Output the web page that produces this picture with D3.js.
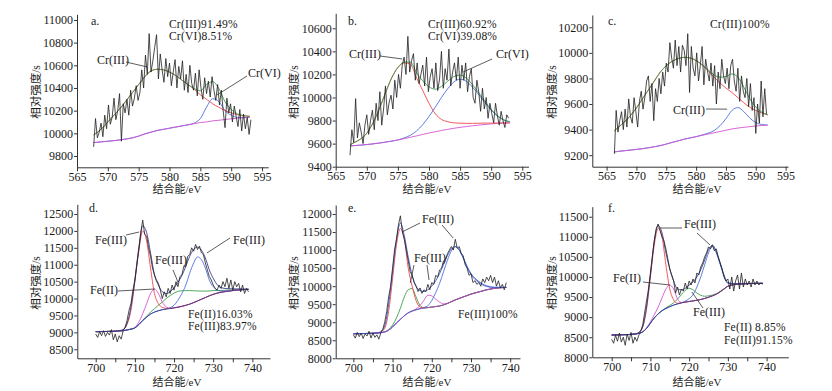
<!DOCTYPE html>
<html>
<head>
<meta charset="utf-8">
<script src="https://cdn.jsdelivr.net/npm/d3@7"></script>
<style>
body{margin:0;background:#fff;}
svg text{font-family:"Liberation Serif","Times New Roman",serif;fill:#1a1a1a;}
.cjk{font-family:"Liberation Serif","Noto Sans CJK SC",sans-serif;}
</style>
</head>
<body>
<svg id="chart" width="832" height="391"></svg>
<script>
// ---------- Cr 2p panels (a, b, c) ----------
var crTicksX = [565,570,575,580,585,590,595];

// a. raw counts, sampled from 567.7 eV every 0.3 eV
var aNoiseStart = 567.7, aNoiseStep = 0.3;
var aNoise = [9880,10130,9960,10010,10090,9970,10160,10040,10250,10080,
	10140,10310,10120,10200,10350,9930,10260,10180,10300,10160,
	10380,10240,10310,10420,10290,10360,10560,10400,10690,10520,
	10880,10540,10640,10760,10870,10480,10700,10560,10450,10660,
	10500,10620,10420,10540,10650,10400,10590,10480,10640,10380,
	10520,10360,10600,10440,10380,10530,10330,10560,10400,10300,
	10490,10350,10460,10320,10500,10380,10290,10430,10250,10380,
	10200,10050,10310,10180,10260,10100,10240,10150,10060,10210,
	10020,10170,10040,10140,9990,10120];
var aFitX = [567.7,569,570,571,572,573,574,575,576,577,578,579,580,581,582,583,584,585,586,587,588,589,590,591,592,593];
var aBg   = [9918,9925,9930,9935,9942,9950,9960,9975,9995,10010,10025,10035,10045,10055,10065,10075,10085,10095,10100,10110,10115,10122,10128,10133,10138,10142];
var aCr3  = [9985,10040,10100,10160,10220,10290,10360,10430,10500,10550,10565,10560,10540,10510,10470,10430,10390,10340,10300,10260,10230,10200,10180,10165,10155,10150];
var aCr6  = [9918,9925,9930,9935,9942,9950,9960,9975,9995,10010,10025,10035,10045,10055,10065,10075,10090,10130,10230,10305,10280,10200,10160,10140,10138,10142];
var aSum  = [9985,10040,10100,10160,10220,10290,10360,10430,10500,10550,10565,10560,10540,10510,10470,10430,10395,10375,10430,10455,10395,10278,10212,10172,10155,10150];
var aTicksY = [9800,10000,10200,10400,10600,10800,11000];

// b.
var bNoiseStart = 567.3, bNoiseStep = 0.3;
var bNoise = [9500,9720,9610,9990,9650,9780,9700,9600,9760,9850,
	9680,9800,9890,9720,9950,9800,10050,9760,9900,10100,
	9850,9960,10020,9900,10150,10000,10200,10080,10280,10350,
	10200,10530,10220,10320,10380,10150,10300,10120,10200,10280,
	10100,10350,10050,10180,10250,10080,10300,10060,10160,10400,
	10080,10250,10150,10420,10100,10220,10300,10150,10350,10080,
	10280,10150,10300,10050,10180,10250,10000,9950,10150,10050,
	9880,10080,9900,10000,9820,9950,9860,9780,9950,9840,
	9760,9880,9800,9740,9850,9820];
var bFitX = [567.3,568,569,570,571,572,573,574,575,576,577,578,579,580,581,582,583,584,585,586,587,588,589,590,591,592,593];
var bBg   = [9580,9583,9587,9592,9598,9605,9613,9622,9632,9643,9655,9667,9680,9692,9703,9714,9724,9733,9741,9748,9755,9761,9766,9771,9775,9778,9780];
var bCr3  = [9590,9610,9640,9690,9780,9900,10040,10170,10260,10300,10290,10170,10060,9950,9860,9810,9790,9780,9777,9776,9776,9777,9778,9778,9779,9780,9780];
var bCr6  = [9580,9583,9587,9592,9598,9605,9613,9622,9632,9650,9672,9710,9765,9835,9915,10000,10075,10135,10158,10140,10090,10025,9955,9890,9840,9805,9790];
var bSum  = [9590,9610,9640,9690,9780,9900,10040,10170,10260,10307,10307,10213,10145,10093,10072,10096,10141,10182,10194,10168,10111,10041,9967,9897,9844,9807,9790];
var bTicksY = [9400,9600,9800,10000,10200,10400,10600];

// c.
var cNoiseStart = 566.3, cNoiseStep = 0.3;
var cNoise = [9210,9550,9380,9470,9540,9400,9560,9420,9640,9500,
	9450,9650,9540,9420,9620,9700,9560,9650,9780,9820,
	9620,9760,9470,9720,9620,9800,9680,9850,9740,9920,
	9850,10080,9960,9880,10100,9900,10050,9850,10060,10020,
	9900,10150,9690,10050,9880,9820,10000,9780,9900,10050,
	9750,9950,9860,9780,9920,9740,9900,9600,9850,9720,
	9950,9820,9760,9880,9720,9900,9950,9780,9700,9880,
	9620,9820,9700,9650,9800,9580,9760,9550,9650,9370,
	9600,9450,9780,9500,9720,9520];
var cFitX = [566.3,567,568,569,570,571,572,573,574,575,576,577,578,579,580,581,582,583,584,585,586,587,588,589,590,591,592];
var cBg   = [9225,9230,9235,9240,9245,9251,9258,9266,9275,9287,9300,9312,9325,9335,9345,9355,9365,9375,9385,9395,9405,9412,9418,9423,9428,9432,9435];
var cCr3  = [9390,9420,9460,9510,9570,9640,9710,9780,9850,9900,9935,9955,9965,9960,9940,9905,9860,9810,9765,9725,9690,9650,9610,9575,9550,9530,9515];
var cPeak = [9225,9230,9235,9240,9245,9251,9258,9266,9275,9287,9300,9312,9325,9335,9345,9358,9372,9392,9430,9485,9550,9572,9540,9490,9455,9440,9436];
var cSum  = [9390,9420,9460,9510,9570,9640,9710,9780,9850,9900,9935,9955,9965,9960,9940,9908,9867,9827,9810,9815,9835,9810,9732,9642,9577,9538,9516];
var cTicksY = [9200,9400,9600,9800,10000,10200];

// ---------- Fe 2p panels (d, e, f) ----------
var feTicksX = [700,710,720,730,740];
var feMinorX = [705,715,725,735];
var feNoiseStart = 700, feNoiseStep = 0.5;
var feFitX = [700,702,704,706,707,708,709,710,711,712,713,714,715,716,717,718,719,720,721,722,723,724,725,726,727,728,729,730,732,734,736,739];

// d.
var dNoise = [8950,8850,9020,8900,9050,8880,9000,8920,9080,8780,8950,8720,8900,8800,9050,9150,9350,9650,9850,10250,
	10550,11000,11450,11950,12320,11900,11850,11500,11250,10900,10700,10550,10450,10250,10000,10200,10050,10300,10150,10400,
	10250,10500,10350,10650,10700,10950,10950,11250,11300,11500,11400,11600,11450,11550,11350,11300,11050,10850,10650,10550,
	10400,10300,10250,10400,10300,10500,10350,10600,10300,10550,10250,10500,10350,10450,10200,10400,10150,10300,10200];
var dBg    = [9020,9025,9030,9040,9050,9070,9095,9130,9230,9350,9450,9540,9600,9640,9670,9690,9705,9725,9745,9770,9800,9835,9880,9930,9980,10030,10080,10125,10185,10220,10250,10270];
var dFe3a  = [9020,9025,9030,9045,9080,9240,9650,10500,11400,12000,11700,10900,10150,9850,9740,9710,9705,9725,9745,9770,9800,9835,9880,9930,9980,10030,10080,10125,10185,10220,10250,10270];
var dFe2   = [9020,9025,9030,9040,9050,9070,9100,9150,9300,9550,9850,10150,10280,10150,9900,9750,9710,9725,9745,9770,9800,9835,9880,9930,9980,10030,10080,10125,10185,10220,10250,10270];
var dSat   = [9020,9025,9030,9040,9050,9070,9095,9130,9230,9360,9480,9600,9700,9800,9900,10000,10090,10160,10210,10230,10235,10235,10230,10225,10220,10220,10225,10235,10240,10250,10258,10270];
var dFe3b  = [9020,9025,9030,9040,9050,9070,9095,9130,9230,9350,9450,9540,9600,9640,9670,9690,9730,9800,9950,10150,10400,10750,11050,11230,11150,10900,10550,10350,10220,10230,10255,10270];
var dSum   = [9020,9025,9030,9050,9080,9260,9750,10550,11500,12150,11950,11350,10700,10400,10200,10150,10200,10320,10480,10680,10950,11250,11450,11520,11430,11200,10850,10600,10320,10290,10285,10280];
var dTicksY = [8500,9000,9500,10000,10500,11000,11500,12000,12500];

// e.
var eNoise = [8650,8560,8720,8600,8700,8550,8680,8620,8750,8560,8700,8580,8650,8530,8700,8800,9000,9300,9700,10000,
	10500,11000,11300,11700,11950,11500,11300,11000,10700,10400,10300,10100,10000,9850,9950,9800,9900,9850,10050,9900,
	10100,10050,10300,10250,10450,10500,10700,10750,10900,11000,11100,11000,11300,11050,11100,10900,10850,10600,10500,10300,
	10350,10100,10150,10050,10100,10000,10200,10100,10250,10150,10300,10100,10250,10000,10150,9950,10050,9900,10100];
var eBg    = [8680,8685,8690,8700,8710,8730,8780,8870,8980,9080,9180,9260,9310,9345,9370,9390,9405,9420,9435,9450,9480,9520,9570,9620,9660,9700,9740,9780,9840,9900,9940,9965];
var eFe3a  = [8680,8685,8690,8700,8730,8830,9300,10200,11150,11600,11300,10500,10000,9600,9420,9395,9405,9420,9435,9450,9480,9520,9570,9620,9660,9700,9740,9780,9840,9900,9940,9965];
var eFe3c  = [8680,8685,8690,8700,8710,8730,8800,8920,9120,9390,9700,9900,9935,9700,9470,9405,9408,9420,9435,9450,9480,9520,9570,9620,9660,9700,9740,9780,9840,9900,9940,9965];
var eFe3d  = [8680,8685,8690,8700,8710,8730,8780,8870,8980,9080,9180,9260,9315,9370,9460,9610,9750,9730,9640,9560,9510,9525,9570,9620,9660,9700,9740,9780,9840,9900,9940,9965];
var eFe3b  = [8680,8685,8690,8700,8710,8730,8780,8870,8980,9080,9180,9260,9310,9345,9380,9410,9460,9600,9820,10080,10400,10720,10980,11090,11000,10780,10520,10320,10100,9990,9960,9968];
var eSum   = [8680,8685,8690,8700,8740,8900,9500,10400,11300,11750,11400,10800,10300,10000,9880,9850,9900,10000,10150,10350,10600,10850,11030,11100,11000,10800,10550,10350,10130,10010,9970,9965];
var eTicksY = [8000,8500,9000,9500,10000,10500,11000,11500,12000];

// f.
var fNoise = [8450,8350,8550,8400,8600,8380,8500,8300,8580,8420,8620,8350,8500,8400,8550,8650,8800,9100,9400,9700,
	10100,10500,10900,11200,11320,11150,11000,10900,10700,10450,10200,10050,9900,9600,9750,9550,9700,9650,9850,9700,
	9900,9800,9950,9850,10100,10050,10250,10350,10500,10600,10750,10700,10800,10650,10700,10500,10350,10200,10000,9900,
	9950,9700,10000,9650,9900,10050,9700,10100,9750,9950,9800,9900,9750,9950,9800,9900,9800,9850,9820];
var fBg    = [8555,8560,8565,8580,8595,8630,8720,8850,8980,9080,9160,9215,9260,9300,9330,9355,9375,9390,9405,9420,9440,9465,9495,9530,9570,9630,9700,9770,9815,9830,9838,9842];
var fFe3a  = [8555,8560,8565,8580,8620,8750,9200,10000,10800,11210,11000,10300,9700,9430,9345,9358,9375,9390,9405,9420,9440,9465,9495,9530,9570,9630,9700,9770,9815,9830,9838,9842];
var fFe2   = [8555,8560,8565,8580,8595,8630,8730,8880,9060,9250,9480,9700,9800,9700,9450,9365,9375,9390,9405,9420,9440,9465,9495,9530,9570,9630,9700,9770,9815,9830,9838,9842];
var fSat   = [8555,8560,8565,8580,8595,8630,8720,8850,8980,9080,9160,9230,9290,9360,9450,9560,9670,9720,9680,9600,9545,9520,9530,9550,9585,9640,9705,9770,9815,9830,9838,9842];
var fFe3b  = [8555,8560,8565,8580,8595,8630,8720,8850,8980,9080,9160,9215,9260,9300,9330,9355,9400,9460,9560,9750,10000,10300,10600,10760,10600,10320,10020,9840,9825,9832,9838,9842];
var fSum   = [8555,8560,8565,8580,8620,8760,9250,10050,10900,11280,11100,10600,10200,9900,9700,9680,9720,9800,9880,10000,10180,10420,10680,10790,10640,10350,10050,9860,9830,9835,9840,9842];
var fTicksY = [8000,8500,9000,9500,10000,10500,11000,11500];

// ---------- drawing ----------
var RED = '#f04848', GREEN = '#3c9e4c', BLUE = '#4e6fdc', PINK = '#d456d4', NAVY = '#3c3c8c', PURPLE = '#7658c4', DATA = '#202020';

var svg = d3.select('#chart');
svg.append('rect').attr('width',832).attr('height',391).attr('fill','#fff');

function drawPanel(p){
	var x = d3.scaleLinear().domain(p.xDomain).range(p.xRange);
	var y = d3.scaleLinear().domain(p.yDomain).range(p.yRange);
	var g = svg.append('g');
	var bottom = p.yRange[0], left = p.xRange[0];

	// fitted components (last ones on top), raw spectrum over everything
	var fitLine = d3.line().curve(d3.curveMonotoneX);
	p.fits.forEach(function(f){
		var pts = p.fitX.map(function(e,i){ return [x(e), y(f.values[i])]; });
		g.append('path').attr('d',fitLine(pts)).attr('fill','none')
			.attr('stroke',f.color).attr('stroke-width',0.9);
	});
	var rawLine = d3.line();
	var raw = p.noise.map(function(v,i){ return [x(p.noiseStart + i*p.noiseStep), y(v)]; });
	g.append('path').attr('d',rawLine(raw)).attr('fill','none')
		.attr('stroke',DATA).attr('stroke-width',0.8).attr('stroke-linejoin','round');

	// axes (left + bottom only)
	g.append('g').attr('transform','translate(0,'+bottom+')')
		.call(d3.axisBottom(x).tickValues(p.xTicks).tickFormat(d3.format('d')).tickSize(4).tickSizeOuter(0).tickPadding(1));
	if(p.xMinor){
		g.append('g').attr('transform','translate(0,'+bottom+')')
			.call(d3.axisBottom(x).tickValues(p.xMinor).tickFormat('').tickSize(4).tickSizeOuter(0))
			.select('.domain').remove();
	}
	g.append('g').attr('transform','translate('+left+',0)')
		.call(d3.axisLeft(y).tickValues(p.yTicks).tickFormat(d3.format('d')).tickSize(3).tickSizeOuter(0).tickPadding(1));
	g.selectAll('.domain').attr('stroke','#333');
	g.selectAll('.tick line').attr('stroke','#333');
	g.selectAll('.tick text').attr('font-size',12).attr('font-family','"Liberation Serif",serif').attr('fill','#1a1a1a');

	// axis titles
	g.append('text').attr('class','cjk').attr('x',p.xTitle[0]).attr('y',p.xTitle[1])
		.attr('text-anchor','middle').attr('font-size',11).text('结合能/eV');
	g.append('text').attr('class','cjk')
		.attr('transform','translate('+p.yTitle[0]+','+p.yTitle[1]+') rotate(-90)')
		.attr('text-anchor','middle').attr('font-size',11.5).text('相对强度/s');

	// panel letter, peak labels
	p.texts.forEach(function(t){
		g.append('text').attr('x',t[1]).attr('y',t[2]).attr('font-size',12).text(t[0]);
	});
	// two-line percentage block
	p.shares.lines.forEach(function(s,i){
		g.append('text').attr('x',p.shares.x).attr('y',p.shares.y + i*12.5)
			.attr('font-size',11.5).attr('letter-spacing',0.2).text(s);
	});
	// leader lines: from text side (px) to a point on the spectrum (eV, counts)
	p.leaders.forEach(function(l){
		g.append('line').attr('x1',l[0]).attr('y1',l[1])
			.attr('x2',x(l[2])).attr('y2',y(l[3]))
			.attr('stroke','#333').attr('stroke-width',0.8);
	});
}

drawPanel({
	xDomain:[565,596], xRange:[77,268.2], yDomain:[9700,11050], yRange:[167.3,14.3],
	xTicks:crTicksX, yTicks:aTicksY,
	noise:aNoise, noiseStart:aNoiseStart, noiseStep:aNoiseStep, fitX:aFitX,
	fits:[{values:aCr6,color:BLUE},{values:aBg,color:PINK},{values:aCr3,color:RED},{values:aSum,color:GREEN}],
	xTitle:[177,193], yTitle:[40,92],
	texts:[['a.',91,25],['Cr(III)',97,64],['Cr(VI)',248,77]],
	shares:{x:169,y:27.5,lines:['Cr(III)91.49%','Cr(VI)8.51%']},
	leaders:[[126,62,576.4,10585],[247,76,587.7,10338]]
});
drawPanel({
	xDomain:[565,596], xRange:[335.7,528.5], yDomain:[9400,10730], yRange:[166.7,13.3],
	xTicks:crTicksX, yTicks:bTicksY,
	noise:bNoise, noiseStart:bNoiseStart, noiseStep:bNoiseStep, fitX:bFitX,
	fits:[{values:bCr6,color:BLUE},{values:bBg,color:PINK},{values:bCr3,color:RED},{values:bSum,color:GREEN}],
	xTitle:[427,193], yTitle:[298,92],
	texts:[['b.',348,25],['Cr(III)',349,58],['Cr(VI)',496,58]],
	shares:{x:428,y:27.5,lines:['Cr(III)60.92%','Cr(VI)39.08%']},
	leaders:[[380,56,575.7,10334],[492,59,585.5,10221]]
});
drawPanel({
	xDomain:[562.6,595.4], xRange:[592.3,788], yDomain:[9110,10296], yRange:[166.7,15],
	xTicks:crTicksX, yTicks:cTicksY,
	noise:cNoise, noiseStart:cNoiseStart, noiseStep:cNoiseStep, fitX:cFitX,
	fits:[{values:cPeak,color:BLUE},{values:cBg,color:PINK},{values:cCr3,color:RED},{values:cSum,color:GREEN}],
	xTitle:[697,193], yTitle:[556,92],
	texts:[['c.',608,25],['Cr(III)',673,114]],
	shares:{x:710,y:27.5,lines:['Cr(III)100%']},
	leaders:[[706,109,585.2,9560]]
});
drawPanel({
	xDomain:[695.3,744.5], xRange:[77.3,270], yDomain:[8233,12787], yRange:[358.3,204.3],
	xTicks:feTicksX, xMinor:feMinorX, yTicks:dTicksY,
	noise:dNoise, noiseStart:feNoiseStart, noiseStep:feNoiseStep, fitX:feFitX,
	fits:[{values:dSat,color:GREEN},{values:dFe2,color:PINK},{values:dFe3b,color:BLUE},{values:dFe3a,color:RED},{values:dBg,color:NAVY},{values:dSum,color:NAVY}],
	xTitle:[177,385.5], yTitle:[40,283],
	texts:[['d.',89,212],['Fe(III)',95,244],['Fe(II)',90,294],['Fe(III)',155,264],['Fe(III)',233,244]],
	shares:{x:188,y:317.5,lines:['Fe(II)16.03%','Fe(III)83.97%']},
	leaders:[[126,235,711.1,11968],[118,291,715.1,10283],[173,270,721.0,10490],[230,238,728.4,11347]]
});
drawPanel({
	xDomain:[695.5,742.5], xRange:[335.7,520], yDomain:[8000,12250], yRange:[358.3,205],
	xTicks:feTicksX, xMinor:feMinorX, yTicks:eTicksY,
	noise:eNoise, noiseStart:feNoiseStart, noiseStep:feNoiseStep, fitX:feFitX,
	fits:[{values:eFe3c,color:GREEN},{values:eFe3d,color:PINK},{values:eFe3b,color:BLUE},{values:eFe3a,color:RED},{values:eBg,color:PURPLE},{values:eSum,color:'#3a52c4'}],
	xTitle:[427,385.5], yTitle:[298,283],
	texts:[['e.',348,212],['Fe(III)',422,223],['Fe(III)',414,262]],
	shares:{x:458,y:318,lines:['Fe(III)100%']},
	leaders:[[420,223,712.4,11501],[442,225,725.45,11335],[414,265,714.5,10087],[427,265,719.3,10170]]
});
drawPanel({
	xDomain:[695,745.6], xRange:[592.3,788.3], yDomain:[8000,11750], yRange:[357.3,206.7],
	xTicks:feTicksX, xMinor:feMinorX, yTicks:fTicksY,
	noise:fNoise, noiseStart:feNoiseStart, noiseStep:feNoiseStep, fitX:feFitX,
	fits:[{values:fSat,color:GREEN},{values:fFe2,color:PINK},{values:fFe3b,color:BLUE},{values:fFe3a,color:RED},{values:fBg,color:NAVY},{values:fSum,color:NAVY}],
	xTitle:[697,385.5], yTitle:[556,283],
	texts:[['f.',608,212],['Fe(III)',684,228],['Fe(II)',613,282],['Fe(III)',693,316]],
	shares:{x:724,y:331,lines:['Fe(II) 8.85%','Fe(III)91.15%']},
	leaders:[[682,228,712.5,11219],[697,233,725.4,10796],[643,282,715.0,9800],[703,308,720.7,9626]]
});
</script>
</body>
</html>
